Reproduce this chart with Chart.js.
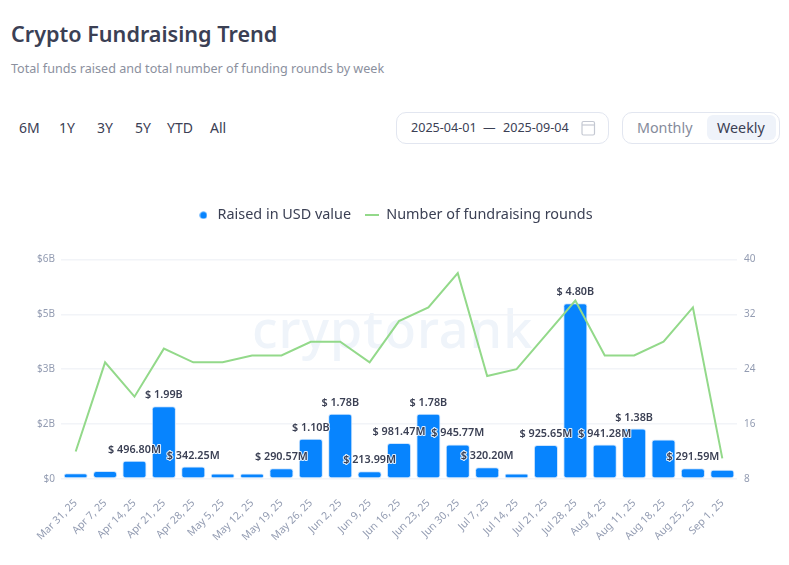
<!DOCTYPE html>
<html lang="en">
<head>
    <meta charset="UTF-8">
    <title>Crypto Fundraising Trend</title>
    <script src="https://cdn.jsdelivr.net/npm/chart.js"></script>
    <style>
        html, body {
            margin: 0;
            padding: 0;
            background: #fff;
            width: 789px;
            height: 565px;
            overflow: hidden;
            font-family: "Noto Sans", sans-serif;
        }

        .abs {
            position: absolute;
            white-space: nowrap;
        }

        h1 {
            margin: 0;
            left: 11px;
            top: 18px;
            font-size: 21.6px;
            line-height: 32px;
            font-weight: 600;
            color: #3b4054;
        }

        .subtitle {
            left: 11px;
            top: 60px;
            font-size: 12.6px;
            line-height: 18px;
            color: #8b909e;
        }

        .range {
            top: 118px;
            font-size: 14px;
            line-height: 20px;
            color: #3b4054;
        }

        .box {
            top: 112px;
            height: 30px;
            border: 1px solid #e2e6f0;
            border-radius: 10px;
            box-sizing: content-box;
        }

        .date {
            top: 119px;
            font-size: 12.6px;
            line-height: 18px;
            color: #3b4054;
        }

        .toggle {
            top: 118px;
            font-size: 14.3px;
            line-height: 20px;
        }

        .active {
            left: 707px;
            top: 115px;
            width: 69px;
            height: 25px;
            background: #eff3fa;
            border-radius: 6px;
        }

        .watermark {
            left: 252px;
            top: 293px;
            font-size: 52px;
            line-height: 70px;
            font-weight: 500;
            letter-spacing: 1px;
            color: #eff4fa;
        }

        #chartWrap {
            left: 0;
            top: 194px;
            width: 789px;
            height: 371px;
        }
    </style>
</head>
<body>
    <h1 class="abs">Crypto Fundraising Trend</h1>
    <div class="abs subtitle">Total funds raised and total number of funding rounds by week</div>

    <div class="abs range" style="left:19px">6M</div>
    <div class="abs range" style="left:59px">1Y</div>
    <div class="abs range" style="left:97px">3Y</div>
    <div class="abs range" style="left:135px">5Y</div>
    <div class="abs range" style="left:167px">YTD</div>
    <div class="abs range" style="left:210px">All</div>

    <div class="abs box" style="left:396px;width:211px"></div>
    <div class="abs date" style="left:411px">2025-04-01</div>
    <div class="abs date" style="left:483px">—</div>
    <div class="abs date" style="left:503px">2025-09-04</div>
    <svg class="abs" style="left:581px;top:120px" width="15" height="16" viewBox="0 0 15 16">
        <rect x="1" y="1.5" width="12.5" height="13.5" rx="1.5" fill="none" stroke="#c4c8d2" stroke-width="1.2"/>
        <line x1="1" y1="5" x2="13.5" y2="5" stroke="#c4c8d2" stroke-width="1.2"/>
    </svg>

    <div class="abs box" style="left:622px;width:156px"></div>
    <div class="abs active"></div>
    <div class="abs toggle" style="left:637px;color:#858b9b">Monthly</div>
    <div class="abs toggle" style="left:717px;color:#3b4054">Weekly</div>

    <div class="abs watermark">cryptorank</div>

    <div class="abs" id="chartWrap"><canvas id="fundingChart" width="789" height="371"></canvas></div>

    <script>
        const weeks = ['Mar 31, 25', 'Apr 7, 25', 'Apr 14, 25', 'Apr 21, 25', 'Apr 28, 25', 'May 5, 25', 'May 12, 25', 'May 19, 25',
            'May 26, 25', 'Jun 2, 25', 'Jun 9, 25', 'Jun 16, 25', 'Jun 23, 25', 'Jun 30, 25', 'Jul 7, 25', 'Jul 14, 25',
            'Jul 21, 25', 'Jul 28, 25', 'Aug 4, 25', 'Aug 11, 25', 'Aug 18, 25', 'Aug 25, 25', 'Sep 1, 25'];

        // Raised, in billions of USD
        const raised = [0.16, 0.22, 0.4968, 1.99, 0.34225, 0.15, 0.15, 0.29057,
            1.10, 1.78, 0.21399, 0.98147, 1.78, 0.94577, 0.3202, 0.15,
            0.92565, 4.80, 0.94128, 1.38, 1.08, 0.29159, 0.25];

        const rounds = [12, 25, 20, 27, 25, 25, 26, 26, 28, 28, 25, 31, 33, 38, 23, 24, 29, 34, 26, 26, 28, 33, 11];

        // Only some bars carry a label in the original
        const barLabels = [null, null, '$ 496.80M', '$ 1.99B', '$ 342.25M', null, null, '$ 290.57M',
            '$ 1.10B', '$ 1.78B', '$ 213.99M', '$ 981.47M', '$ 1.78B', '$ 945.77M', '$ 320.20M', null,
            '$ 925.65M', '$ 4.80B', '$ 941.28M', '$ 1.38B', null, '$ 291.59M', null];

        const BLUE = '#0784fe';
        const GREEN = '#93d98a';
        const TICK_COLOR = '#939cb2';

        // Legend markers, circle and short line have different widths
        function legendDot() {
            const c = document.createElement('canvas');
            c.width = 8;
            c.height = 8;
            const ctx = c.getContext('2d');
            ctx.fillStyle = BLUE;
            ctx.beginPath();
            ctx.arc(4, 4, 3.5, 0, Math.PI * 2);
            ctx.fill();
            return c;
        }

        function legendLine() {
            const c = document.createElement('canvas');
            c.width = 14;
            c.height = 2;
            const ctx = c.getContext('2d');
            ctx.fillStyle = GREEN;
            ctx.fillRect(0, 0, 14, 2);
            return c;
        }

        // Extra room between the legend and the plot
        const legendGapPlugin = {
            id: 'legendGap',
            beforeInit(chart) {
                const fit = chart.legend.fit;
                chart.legend.fit = function () {
                    fit.call(this);
                    this.height += 27;
                };
            }
        };

        // Value labels above the bars, with a white halo
        const barLabelPlugin = {
            id: 'barLabels',
            afterDatasetsDraw(chart) {
                const ctx = chart.ctx;
                const meta = chart.getDatasetMeta(1);
                ctx.save();
                ctx.font = '600 10.8px "Noto Sans"';
                ctx.textAlign = 'center';
                ctx.textBaseline = 'middle';
                ctx.lineJoin = 'round';
                meta.data.forEach((bar, i) => {
                    if (!barLabels[i]) return;
                    ctx.lineWidth = 2;
                    ctx.strokeStyle = 'rgba(255,255,255,0.85)';
                    ctx.strokeText(barLabels[i], bar.x, bar.y - 11);
                    ctx.fillStyle = '#3b4054';
                    ctx.fillText(barLabels[i], bar.x, bar.y - 11);
                });
                ctx.restore();
            }
        };

        new Chart(document.getElementById('fundingChart'), {
            data: {
                labels: weeks,
                datasets: [
                    {
                        type: 'line',
                        label: 'Number of fundraising rounds',
                        data: rounds,
                        yAxisID: 'yRounds',
                        borderColor: GREEN,
                        borderWidth: 2,
                        pointRadius: 0,
                        tension: 0,
                        order: 0,
                        pointStyle: legendLine()
                    },
                    {
                        type: 'bar',
                        label: 'Raised in USD value',
                        data: raised,
                        yAxisID: 'yRaised',
                        backgroundColor: BLUE,
                        borderColor: '#cfe5fd',
                        borderWidth: 1,
                        borderRadius: 3,
                        borderSkipped: false,
                        barPercentage: 0.82,
                        categoryPercentage: 1,
                        order: 1,
                        pointStyle: legendDot()
                    }
                ]
            },
            options: {
                responsive: false,
                animation: false,
                layout: { padding: 0 },
                plugins: {
                    tooltip: { enabled: false },
                    legend: {
                        position: 'top',
                        reverse: true,
                        labels: {
                            usePointStyle: true,
                            pointStyleWidth: 14,
                            boxHeight: 8,
                            padding: 14,
                            color: '#3b4054',
                            font: { family: '"Noto Sans"', size: 14.4 }
                        }
                    }
                },
                scales: {
                    x: {
                        grid: { display: false },
                        border: { display: false },
                        ticks: {
                            autoSkip: false,
                            minRotation: 45,
                            maxRotation: 45,
                            color: TICK_COLOR,
                            font: { family: '"Noto Sans"', size: 10.5 },
                            padding: 10
                        },
                        afterFit(scale) { scale.height = 86; }
                    },
                    yRaised: {
                        position: 'left',
                        min: 0,
                        max: 6,
                        grid: { color: '#f2f4f8', lineWidth: 1.5, drawTicks: false },
                        border: { display: false },
                        ticks: {
                            stepSize: 1.5,
                            color: TICK_COLOR,
                            font: { family: '"Noto Sans"', size: 10 },
                            padding: 6,
                            callback: v => v === 0 ? '$0' : '$' + v.toFixed(0) + 'B'
                        },
                        afterFit(scale) { scale.width = 61; }
                    },
                    yRounds: {
                        position: 'right',
                        min: 8,
                        max: 40,
                        grid: { display: false, drawTicks: false },
                        border: { display: false },
                        ticks: {
                            stepSize: 8,
                            color: TICK_COLOR,
                            font: { family: '"Noto Sans"', size: 10 },
                            padding: 7
                        },
                        afterFit(scale) { scale.width = 52; }
                    }
                }
            },
            plugins: [legendGapPlugin, barLabelPlugin]
        });
    </script>
</body>
</html>
